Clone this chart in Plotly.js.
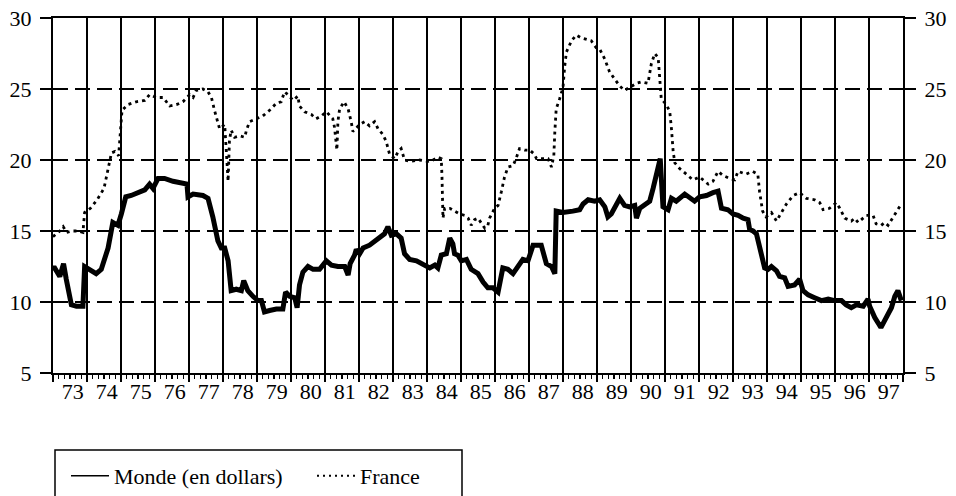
<!DOCTYPE html>
<html><head><meta charset="utf-8">
<script src="https://cdn.plot.ly/plotly-3.0.1.min.js"></script>
<style>html,body{margin:0;padding:0;background:#fff;} #chart{width:956px;height:496px;}</style>
</head><body><div id="chart"></div>
<script>
// Monde (en dollars) — thick solid line
const mondeX = [1973.0,1973.05,1973.2,1973.31,1973.39,1973.54,1973.69,1973.88,1973.93,1974.08,1974.27,1974.42,1974.62,1974.76,1974.91,1975.01,1975.14,1975.3,1975.5,1975.7,1975.84,1975.94,1976.09,1976.28,1976.53,1976.82,1976.94,1976.97,1977.12,1977.41,1977.56,1977.7,1977.85,1977.95,1978.05,1978.15,1978.24,1978.39,1978.54,1978.61,1978.73,1978.88,1979.03,1979.13,1979.22,1979.37,1979.57,1979.76,1979.84,1979.96,1980.11,1980.18,1980.25,1980.35,1980.5,1980.65,1980.84,1981.04,1981.19,1981.38,1981.58,1981.68,1981.74,1981.87,1981.92,1982.02,1982.12,1982.31,1982.51,1982.66,1982.75,1982.85,1982.95,1983.1,1983.24,1983.34,1983.49,1983.69,1983.88,1984.08,1984.23,1984.32,1984.42,1984.57,1984.67,1984.76,1984.81,1984.91,1985.01,1985.16,1985.3,1985.5,1985.65,1985.79,1985.94,1986.09,1986.23,1986.38,1986.53,1986.68,1986.82,1986.97,1987.12,1987.36,1987.46,1987.51,1987.66,1987.76,1987.8,1988.0,1988.29,1988.49,1988.59,1988.74,1988.93,1989.08,1989.23,1989.32,1989.42,1989.57,1989.67,1989.81,1989.96,1990.11,1990.16,1990.26,1990.4,1990.55,1990.65,1990.8,1990.86,1990.94,1991.09,1991.19,1991.33,1991.58,1991.73,1991.87,1992.02,1992.22,1992.41,1992.56,1992.66,1992.85,1993.0,1993.15,1993.3,1993.44,1993.49,1993.59,1993.69,1993.83,1993.93,1994.03,1994.13,1994.28,1994.37,1994.52,1994.62,1994.81,1994.96,1995.06,1995.21,1995.4,1995.6,1995.8,1995.99,1996.19,1996.33,1996.48,1996.63,1996.83,1996.97,1997.02,1997.17,1997.35,1997.45,1997.55,1997.66,1997.76,1997.85,1997.95];
const mondeY = [12.4,12.4,11.8,12.7,11.6,9.8,9.7,9.7,12.5,12.3,12.0,12.3,13.8,15.6,15.4,16.2,17.4,17.5,17.7,17.9,18.3,18.0,18.7,18.7,18.5,18.4,18.3,17.4,17.6,17.5,17.3,16.0,14.3,13.8,13.8,12.9,10.8,10.9,10.8,11.5,10.8,10.4,10.1,10.1,9.3,9.4,9.5,9.5,10.7,10.4,10.3,9.6,11.2,12.1,12.5,12.3,12.3,12.9,12.6,12.5,12.5,11.9,12.7,13.3,13.7,13.4,13.8,14.0,14.4,14.6,14.8,15.3,14.7,14.8,14.5,13.4,13.0,12.9,12.7,12.4,12.6,12.4,13.3,13.4,14.5,14.1,13.4,13.3,12.9,13.0,12.3,12.0,11.4,11.0,11.0,10.7,12.4,12.3,12.0,12.5,13.0,12.9,14.0,14.0,13.3,12.7,12.5,12.0,16.4,16.3,16.4,16.5,16.9,17.2,17.1,17.2,16.7,16.0,16.2,16.8,17.3,16.8,16.7,16.8,15.9,16.6,16.8,17.1,18.0,19.4,20.1,16.7,16.5,17.3,17.1,17.6,17.3,17.1,17.4,17.5,17.7,17.8,16.6,16.5,16.2,16.1,15.9,15.8,15.1,15.0,14.8,13.3,12.4,12.3,12.5,12.2,11.8,11.7,11.1,11.2,11.6,10.8,10.5,10.3,10.1,10.2,10.1,10.1,9.8,9.6,9.8,9.7,10.2,9.7,8.9,8.2,8.6,9.0,9.6,10.4,10.8,10.1];

// France — dotted line
const franceX = [1973.0,1973.1,1973.2,1973.3,1973.4,1973.55,1973.75,1973.88,1973.93,1974.1,1974.3,1974.5,1974.62,1974.72,1974.82,1974.93,1975.03,1975.2,1975.45,1975.7,1975.84,1976.04,1976.24,1976.43,1976.63,1976.82,1977.02,1977.12,1977.21,1977.41,1977.56,1977.66,1977.75,1977.8,1977.9,1978.05,1978.1,1978.15,1978.19,1978.24,1978.34,1978.49,1978.64,1978.69,1978.78,1978.98,1979.17,1979.37,1979.57,1979.71,1979.81,1979.91,1980.06,1980.2,1980.25,1980.4,1980.6,1980.74,1980.89,1981.04,1981.14,1981.23,1981.28,1981.33,1981.35,1981.38,1981.43,1981.56,1981.68,1981.77,1981.82,1982.02,1982.17,1982.31,1982.46,1982.56,1982.7,1982.8,1982.9,1983.05,1983.15,1983.24,1983.34,1983.49,1983.78,1984.03,1984.18,1984.32,1984.42,1984.44,1984.47,1984.52,1984.67,1984.81,1984.96,1985.11,1985.21,1985.3,1985.4,1985.5,1985.6,1985.7,1985.79,1985.84,1985.99,1986.09,1986.19,1986.28,1986.38,1986.53,1986.62,1986.72,1986.87,1987.02,1987.16,1987.22,1987.41,1987.56,1987.66,1987.73,1987.76,1987.8,1987.9,1988.0,1988.05,1988.1,1988.25,1988.39,1988.54,1988.69,1988.83,1988.98,1989.08,1989.23,1989.37,1989.52,1989.67,1989.81,1989.96,1990.16,1990.31,1990.5,1990.6,1990.7,1990.8,1990.84,1990.89,1991.04,1991.14,1991.19,1991.24,1991.29,1991.43,1991.63,1991.82,1992.02,1992.27,1992.41,1992.56,1992.71,1992.9,1993.05,1993.15,1993.38,1993.58,1993.73,1993.78,1993.87,1993.97,1994.08,1994.13,1994.28,1994.42,1994.57,1994.77,1994.96,1995.16,1995.4,1995.55,1995.65,1995.84,1996.04,1996.14,1996.29,1996.48,1996.58,1996.68,1996.83,1996.92,1997.12,1997.21,1997.36,1997.46,1997.56,1997.66,1997.81,1997.95];
const franceY = [14.6,14.8,15.0,15.3,14.9,15.0,15.0,14.9,16.3,16.6,17.2,18.0,19.3,20.5,20.6,20.3,23.5,23.9,24.1,24.2,24.6,24.4,24.4,23.8,23.9,24.1,24.6,24.4,24.9,25.0,24.8,24.4,23.5,23.0,22.2,22.5,20.4,18.5,21.4,22.1,21.6,21.7,21.6,22.1,22.7,22.9,23.1,23.5,24.0,24.1,24.8,24.6,24.2,24.5,23.8,23.4,23.2,22.9,23.1,23.4,23.1,22.9,22.3,21.4,20.7,22.7,23.6,24.1,23.6,22.7,22.0,22.5,22.7,22.4,22.7,22.2,21.8,21.3,20.4,20.1,20.6,20.8,20.0,19.9,20.0,19.9,20.0,20.2,20.1,18.9,15.9,16.6,16.6,16.4,16.2,16.1,15.9,15.4,15.8,15.9,15.5,15.2,15.4,15.9,16.6,16.8,17.8,18.8,19.5,19.6,20.1,20.8,20.7,20.7,20.4,20.1,20.1,20.1,19.5,20.3,22.0,23.6,24.3,25.1,26.6,27.6,28.4,28.8,28.6,28.5,28.4,27.9,27.8,27.1,26.2,25.7,25.2,24.9,25.1,25.4,25.5,25.4,26.8,27.5,27.2,25.5,24.3,23.9,23.4,22.2,20.6,19.8,19.4,19.0,18.6,18.8,18.3,18.5,19.2,18.9,18.7,18.6,19.2,19.0,19.2,19.0,17.8,16.4,16.0,16.2,16.3,15.7,16.3,16.9,17.5,17.7,17.3,17.2,17.0,16.5,16.6,17.0,16.6,15.9,15.7,15.9,15.6,15.9,16.1,16.1,15.5,15.4,15.6,15.4,15.8,16.4,16.9];

const seriesNames = ['Monde (en dollars)', 'France'];
const yearLabels = ['73','74','75','76','77','78','79','80','81','82','83','84','85','86','87','88','89','90','91','92','93','94','95','96','97'];
const yTickVals = [5,10,15,20,25,30];

const firstYear = 1973, lastYear = 1998;
const labelPos = yearLabels.map((_, i) => firstYear + i + 0.58);

const FONT = 'Liberation Serif, DejaVu Serif, serif';

const traces = [
  // France drawn on the overlay axes (x2 carries the year labels, y2 the right-hand scale)
  {x: franceX, y: franceY, xaxis: 'x2', yaxis: 'y2', type: 'scatter', mode: 'lines', showlegend: false, hoverinfo: 'skip',
   line: {color: '#000', width: 2.8, dash: '3px,4px'}},
  {x: mondeX, y: mondeY, xaxis: 'x', yaxis: 'y', type: 'scatter', mode: 'lines', showlegend: false, hoverinfo: 'skip',
   line: {color: '#000', width: 5}},
  // legend-only entries (thin samples as in the printed legend)
  {x: [null], y: [null], type: 'scatter', mode: 'lines', name: seriesNames[0], hoverinfo: 'skip',
   line: {color: '#000', width: 1.5}},
  {x: [null], y: [null], type: 'scatter', mode: 'lines', name: seriesNames[1], hoverinfo: 'skip',
   line: {color: '#000', width: 2, dash: '2px,4px'}}
];

const plotTop = 18, plotBottom = 373, plotH = plotBottom - plotTop;
const pyToPaper = py => (plotBottom - py) / plotH;
const pxToPaper = px => (px - 53) / 850;

const tickFont = {family: FONT, size: 22, color: '#000'};

const layout = {
  width: 956, height: 496,
  margin: {l: 53, r: 53, t: plotTop, b: 496 - plotBottom, pad: 0, autoexpand: false},
  paper_bgcolor: '#fff', plot_bgcolor: '#fff',
  font: {family: FONT, size: 22, color: '#000'},
  showlegend: true,
  xaxis: {
    range: [firstYear, lastYear], tickmode: 'linear', tick0: firstYear, dtick: 1,
    showticklabels: false, ticks: 'outside', ticklen: 7, tickwidth: 1.8, tickcolor: '#000',
    showgrid: true, gridcolor: '#000', gridwidth: 2,
    showline: true, linecolor: '#000', linewidth: 2, mirror: true, zeroline: false,
    minor: {tickmode: 'linear', tick0: firstYear, dtick: 1/6, ticks: 'outside', ticklen: 4, tickwidth: 1.3, tickcolor: '#000', showgrid: false},
    fixedrange: true, automargin: false
  },
  xaxis2: {
    range: [firstYear, lastYear], overlaying: 'x', anchor: 'y2', side: 'bottom',
    tickmode: 'array', tickvals: labelPos, ticktext: yearLabels,
    ticks: '', showgrid: false, showline: false, zeroline: false,
    tickfont: tickFont, ticklabelstandoff: 3, fixedrange: true, automargin: false
  },
  yaxis: {
    range: [5, 30], tickmode: 'array', tickvals: yTickVals,
    ticks: 'outside', ticklen: 11, tickwidth: 1.8, tickcolor: '#000',
    showgrid: true, gridcolor: '#000', gridwidth: 2, griddash: '15px,7px',
    showline: true, linecolor: '#000', linewidth: 2, zeroline: false,
    tickfont: tickFont, ticklabelstandoff: 4, fixedrange: true, automargin: false
  },
  yaxis2: {
    range: [5, 30], overlaying: 'y', side: 'right', anchor: 'x2', tickmode: 'array', tickvals: yTickVals,
    ticks: 'outside', ticklen: 11, tickwidth: 1.8, tickcolor: '#000',
    showgrid: false, showline: true, linecolor: '#000', linewidth: 2, zeroline: false,
    tickfont: tickFont, ticklabelstandoff: 4, fixedrange: true, automargin: false
  },
  legend: {
    orientation: 'h', x: pxToPaper(66), y: pyToPaper(476), xanchor: 'left', yanchor: 'middle',
    bgcolor: 'rgba(0,0,0,0)', borderwidth: 0, itemwidth: 38, entrywidth: 193, entrywidthmode: 'pixels',
    font: {family: FONT, size: 22, color: '#000'}
  },
  shapes: [
    {type: 'rect', xref: 'paper', yref: 'paper',
     x0: pxToPaper(55), x1: pxToPaper(462), y0: pyToPaper(499), y1: pyToPaper(450),
     line: {color: '#000', width: 1.5}, fillcolor: 'rgba(0,0,0,0)'}
  ]
};

Plotly.newPlot('chart', traces, layout, {displayModeBar: false, staticPlot: true});
</script>
</body></html>
